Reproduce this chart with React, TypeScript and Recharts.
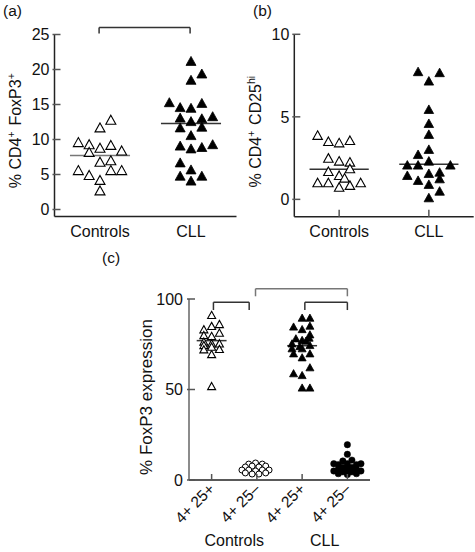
import React from 'react';
import { ScatterChart, Scatter, XAxis, YAxis, ReferenceLine, Label } from 'recharts';

const FONT = '"Liberation Sans", Arial, Helvetica, sans-serif';
const INK = '#111';
const FS = 16;

// ---------- Panel (a) ----------
const aCategories = ['Controls', 'CLL'];
const aYTicks = [0, 5, 10, 15, 20, 25];
const aControlsValues = [12.7, 11.6, 9.5, 9.2, 8.7, 9.1, 8.3, 8.1, 6.7, 6.9, 5.5, 4.8, 5.5, 5.5, 4.1, 2.6];
const aControlsCols = [1, 0, -2, -1, 0, 1, 2, -1, 0, 1, -2, -1, 1, 2, 0, 0];
const aCllValues = [21.1, 19.3, 18.4, 15.2, 14.5, 14.4, 15.1, 13.0, 12.5, 12.9, 13.2, 11.6, 11.7, 10.5, 9.0, 8.6, 8.8, 9.2, 6.6, 5.6, 4.7, 4.0, 4.7];
const aCllCols = [0, 1, 0, -2, -1, 0, 1, -1, 0, 1, 2, -1, 1, 0, -1, 0, 1, 2, -1, 0, -1, 0, 1];
const aMedians = [7.7, 12.3];
const aBrackets = [{ x1: 0.99, x2: 1.99, top: 26.0, leg: 25.15 }];

// ---------- Panel (b) ----------
const bCategories = ['Controls', 'CLL'];
const bYTicks = [0, 5, 10];
const bControlsValues = [3.84, 3.47, 3.39, 3.53, 2.46, 2.28, 2.22, 1.65, 1.82, 1.41, 1.25, 0.97, 0.97, 0.7, 0.81, 0.97];
const bControlsCols = [-2, -1, 0, 1, -1, 0, 1, -1, 1, 0, 0.5, -2, -1, 0, 1, 2];
const bCllValues = [7.7, 7.64, 7.13, 5.41, 4.56, 3.9, 2.99, 2.68, 2.28, 2.04, 2.04, 2.04, 1.61, 1.53, 1.41, 1.11, 1.21, 0.87, 0.46, 0.06];
const bCllCols = [-1, 1, 0, 0, 0, 0, 0, -1, 0, -2, -1, 2, 1, 0, -2, -1, 1, 0, 1, 0];
const bMedians = [1.82, 2.12];

// ---------- Panel (c) ----------
const cCategories = ['4+ 25+', '4+ 25\u2013', '4+ 25+', '4+ 25\u2013'];
const cGroups = ['Controls', 'CLL'];
const cYTicks = [0, 50, 100];
const cCtrlPosValues = [90.8, 85.8, 84.7, 82.9, 81.0, 79.7, 79.2, 76.1, 75.1, 75.1, 74.2, 72.0, 71.8, 69.2, 73.3, 51.5];
const cCtrlPosCols = [0, 1, 0, -1, 1, -1, 0, -1, 0, 1, -1, 1, -1, 0, 0, 0];
const cCtrlNegValues = [8.8, 9.4, 8.8, 7.2, 7.7, 7.2, 7.7, 5.5, 5.5, 5.0, 5.5, 5.5, 3.9, 3.3, 3.3, 3.9];
const cCtrlNegCols = [-2, 0, 2, -3, -1, 1, 3, -4, -2, 0, 2, 4, -3, -1, 1, 3];
const cCllPosValues = [89.3, 89.3, 84.4, 83.0, 84.9, 80.1, 77.9, 77.0, 76.6, 75.1, 73.6, 74.2, 72.4, 72.4, 69.6, 69.6, 67.4, 61.9, 58.6, 57.6, 50.7, 50.7, 78.3];
const cCllPosCols = [0, 1, -1.1, 0, 1, 1, -0.8, 0, 0.5, -1.3, -0.3, 1, -1.3, 0, -1.1, 1, 0, 1, -1.1, 0, 0, 1, 0.9];
const cCllNegValues = [19.5, 14.2, 10.5, 11, 9, 8.5, 9, 8.5, 9, 7, 6.5, 7, 5, 6, 6, 5, 4.5, 4, 4.5, 3.5, 3.5, 3];
const cCllNegCols = [0, 0, -1, 1, -3, -2, 0, 2, 3, -1, 0, 1, -3, -2, 2, 3, -1, 0, 1, -2, 2, 0];
const cMedians = [77.0, 74.2];
const cBrackets = [
  { x1: 1.04, x2: 1.83, top: 98.2, leg: 93.9, color: '#333' },
  { x1: 1.97, x2: 4.0, top: 105.7, leg: 101.5, color: '#777' },
  { x1: 3.06, x2: 4.0, top: 98.2, leg: 93.9, color: '#333' },
];

const toPoints = (vals: number[], cols: number[], center: number, step: number) =>
  vals.map((y, i) => ({ x: center + cols[i] * step, y }));

// ---------- shapes ----------
const triPath = (cx: number, cy: number, w: number) => {
  const h = w * 0.9;
  return `M${cx},${cy - h * 0.6} L${cx + w / 2},${cy + h * 0.4} L${cx - w / 2},${cy + h * 0.4} Z`;
};
const openTri = (w: number) => (p: any) => (
  <path d={triPath(p.cx, p.cy, w)} fill="#fff" stroke="#000" strokeWidth={1.1} />
);
const fillTri = (w: number) => (p: any) => (
  <path d={triPath(p.cx, p.cy, w)} fill="#000" stroke="#000" strokeWidth={0.8} />
);
const openCircle = (r: number) => (p: any) => (
  <circle cx={p.cx} cy={p.cy} r={r} fill="#fff" stroke="#000" strokeWidth={1} />
);
const fillCircle = (r: number) => (p: any) => (
  <circle cx={p.cx} cy={p.cy} r={r} fill="#000" stroke="#000" strokeWidth={0.5} />
);

// ---------- ticks ----------
const yTick = (fs: number, gap: number) => (p: any) => (
  <g>
    <line x1={p.x - 2} x2={p.x + 6} y1={p.y} y2={p.y} stroke="#555" strokeWidth={1.5} />
    <text x={p.x - gap} y={p.y} dy="0.36em" textAnchor="end" fontSize={fs} fontFamily={FONT} fill={INK}>
      {p.payload.value}
    </text>
  </g>
);
const catTick = (cats: string[], inner: boolean) => (p: any) => (
  <g>
    {inner && <line x1={p.x} x2={p.x} y1={p.y} y2={p.y - 7} stroke="#555" strokeWidth={1.5} />}
    <text x={p.x} y={p.y + 20} textAnchor="middle" fontSize={FS} fontFamily={FONT} fill={INK}>
      {cats[Math.round(p.payload.value) - 1]}
    </text>
  </g>
);
const rotTick = (p: any) => {
  const tx = p.x + 4;
  const ty = p.y + 10;
  return (
    <g>
      <line x1={p.x} x2={p.x} y1={p.y} y2={p.y - 6} stroke="#555" strokeWidth={1.5} />
      <text x={tx} y={ty} transform={`rotate(-45 ${tx} ${ty})`} textAnchor="end" fontSize={15.5} fontFamily={FONT} fill={INK}>
        {cCategories[Math.round(p.payload.value) - 1]}
      </text>
    </g>
  );
};
const groupTick = (p: any) => (
  <text x={p.x} y={p.y + 14} textAnchor="middle" fontSize={FS} fontFamily={FONT} fill={INK}>
    {cGroups[p.payload.value < 2.5 ? 0 : 1]}
  </text>
);

const Bracket = (b: { x1: number; x2: number; top: number; leg: number; color?: string }, key: string) => {
  const c = b.color || '#333';
  return [
    <ReferenceLine key={key + 'l'} segment={[{ x: b.x1, y: b.leg }, { x: b.x1, y: b.top }]} stroke={c} strokeWidth={1.5} ifOverflow="visible" />,
    <ReferenceLine key={key + 't'} segment={[{ x: b.x1, y: b.top }, { x: b.x2, y: b.top }]} stroke={c} strokeWidth={1.5} ifOverflow="visible" />,
    <ReferenceLine key={key + 'r'} segment={[{ x: b.x2, y: b.leg }, { x: b.x2, y: b.top }]} stroke={c} strokeWidth={1.5} ifOverflow="visible" />,
  ];
};

const Median = (center: number, value: number, half: number, key: string, color = '#333') => (
  <ReferenceLine key={key} segment={[{ x: center - half, y: value }, { x: center + half, y: value }]} stroke={color} strokeWidth={1.5} ifOverflow="visible" />
);

const sup = (s: string) => [
  <tspan key="a" dy={-6} fontSize={10.5}>{s}</tspan>,
  <tspan key="b" dy={6}>{'\u200A'}</tspan>,
];

export default function App() {
  const aCtrl = toPoints(aControlsValues, aControlsCols, 1, 0.119);
  const aCll = toPoints(aCllValues, aCllCols, 2, 0.119);
  const bCtrl = toPoints(bControlsValues, bControlsCols, 1, 0.12);
  const bCll = toPoints(bCllValues, bCllCols, 2, 0.12);
  const cCtrlPos = toPoints(cCtrlPosValues, cCtrlPosCols, 1, 0.172);
  const cCtrlNeg = toPoints(cCtrlNegValues, cCtrlNegCols, 1.97, 0.075);
  const cCllPos = toPoints(cCllPosValues, cCllPosCols, 3, 0.172);
  const cCllNeg = toPoints(cCllNegValues, cCllNegCols, 4, 0.1);

  return (
    <div style={{ position: 'absolute', left: 0, top: 0, width: 475, height: 552, background: '#fff', fontFamily: FONT }}>
      <svg width={475} height={552} style={{ position: 'absolute', left: 0, top: 0 }}>
        <text x={3} y={15.5} fontSize={15.5} fontFamily={FONT} fill={INK}>(a)</text>
        <text x={253} y={15.5} fontSize={15.5} fontFamily={FONT} fill={INK}>(b)</text>
        <text x={102} y={263} fontSize={15.5} fontFamily={FONT} fill={INK}>(c)</text>
      </svg>

      {/* Panel (a) */}
      <div style={{ position: 'absolute', left: 0, top: 0 }}>
        <ScatterChart width={240} height={250} margin={{ top: 34.5, right: 3.5, bottom: 0, left: 0 }}>
          <XAxis type="number" dataKey="x" domain={[0.5, 2.5]} ticks={[1, 2]} interval={0} height={33.5}
            axisLine={{ stroke: '#222', strokeWidth: 1.5 }} tickLine={false} tickSize={0} tickMargin={0}
            tick={catTick(aCategories, false)} allowDataOverflow />
          <YAxis type="number" dataKey="y" domain={[-1, 25]} ticks={aYTicks} interval={0} width={54.5}
            axisLine={{ stroke: '#222', strokeWidth: 1.5 }} tickLine={false} tickSize={0} tickMargin={0}
            tick={yTick(FS, 5)} allowDataOverflow>
            <Label content={() => (
              <text x={21} y={130} transform="rotate(-90 21 130)" textAnchor="middle" fontSize={16} fontFamily={FONT} fill={INK}>
                {'% CD4'}{sup('+')}{' FoxP3'}{sup('+')}
              </text>
            )} />
          </YAxis>
          {Median(1, aMedians[0], 0.33, 'am0', '#777')}
          {Median(2, aMedians[1], 0.33, 'am1')}
          {aBrackets.map((b, i) => Bracket(b, 'ab' + i))}
          <Scatter data={aCtrl} shape={openTri(10)} isAnimationActive={false} />
          <Scatter data={aCll} shape={fillTri(10)} isAnimationActive={false} />
        </ScatterChart>
      </div>

      {/* Panel (b) */}
      <div style={{ position: 'absolute', left: 240, top: 0 }}>
        <ScatterChart width={235} height={250} margin={{ top: 34.3, right: 1.3, bottom: 0, left: 0 }}>
          <XAxis type="number" dataKey="x" domain={[0.5, 2.5]} ticks={[1, 2]} interval={0} height={33.3}
            axisLine={{ stroke: '#222', strokeWidth: 1.5 }} tickLine={false} tickSize={0} tickMargin={0}
            tick={catTick(bCategories, true)} allowDataOverflow />
          <YAxis type="number" dataKey="y" domain={[-1.05, 10]} ticks={bYTicks} interval={0} width={54.3}
            axisLine={{ stroke: '#222', strokeWidth: 1.5 }} tickLine={false} tickSize={0} tickMargin={0}
            tick={yTick(FS, 5)} allowDataOverflow>
            <Label content={() => (
              <text x={21} y={131} transform="rotate(-90 21 131)" textAnchor="middle" fontSize={16} fontFamily={FONT} fill={INK}>
                {'% CD4'}{sup('+')}{' CD25'}{sup('hi')}
              </text>
            )} />
          </YAxis>
          {Median(1, bMedians[0], 0.33, 'bm0')}
          {Median(2, bMedians[1], 0.33, 'bm1')}
          <Scatter data={bCtrl} shape={openTri(9.5)} isAnimationActive={false} />
          <Scatter data={bCll} shape={fillTri(9.5)} isAnimationActive={false} />
        </ScatterChart>
      </div>

      {/* Panel (c) */}
      <div style={{ position: 'absolute', left: 120, top: 280 }}>
        <ScatterChart width={355} height={272} margin={{ top: 19, right: 105, bottom: 0, left: 0 }}>
          <XAxis type="number" dataKey="x" domain={[0.5, 4.5]} ticks={[1, 2, 3, 4]} interval={0} height={52}
            axisLine={{ stroke: '#222', strokeWidth: 1.5 }} tickLine={false} tickSize={0} tickMargin={0}
            tick={rotTick} allowDataOverflow />
          <XAxis xAxisId="grp" type="number" dataKey="x" domain={[0.5, 4.5]} ticks={[1.5, 3.5]} interval={0} height={20}
            axisLine={false} tickLine={false} tickSize={0} tickMargin={0} tick={groupTick} allowDataOverflow />
          <YAxis type="number" dataKey="y" domain={[0, 100]} ticks={cYTicks} interval={0} width={69}
            axisLine={{ stroke: '#666', strokeWidth: 1.5 }} tickLine={false} tickSize={0} tickMargin={0}
            tick={yTick(FS, 6)} allowDataOverflow>
            <Label content={() => (
              <text x={32} y={117} transform="rotate(-90 32 117)" textAnchor="middle" fontSize={17} fontFamily={FONT} fill={INK}>
                % FoxP3 expression
              </text>
            )} />
          </YAxis>
          {Median(1, cMedians[0], 0.33, 'cm0')}
          {Median(3, cMedians[1], 0.33, 'cm1')}
          {cBrackets.map((b, i) => Bracket(b, 'cb' + i))}
          <Scatter data={cCtrlPos} shape={openTri(8)} isAnimationActive={false} />
          <Scatter data={cCtrlNeg} shape={openCircle(3)} isAnimationActive={false} />
          <Scatter data={cCllPos} shape={fillTri(8)} isAnimationActive={false} />
          <Scatter data={cCllNeg} shape={fillCircle(3.2)} isAnimationActive={false} />
        </ScatterChart>
      </div>
    </div>
  );
}
